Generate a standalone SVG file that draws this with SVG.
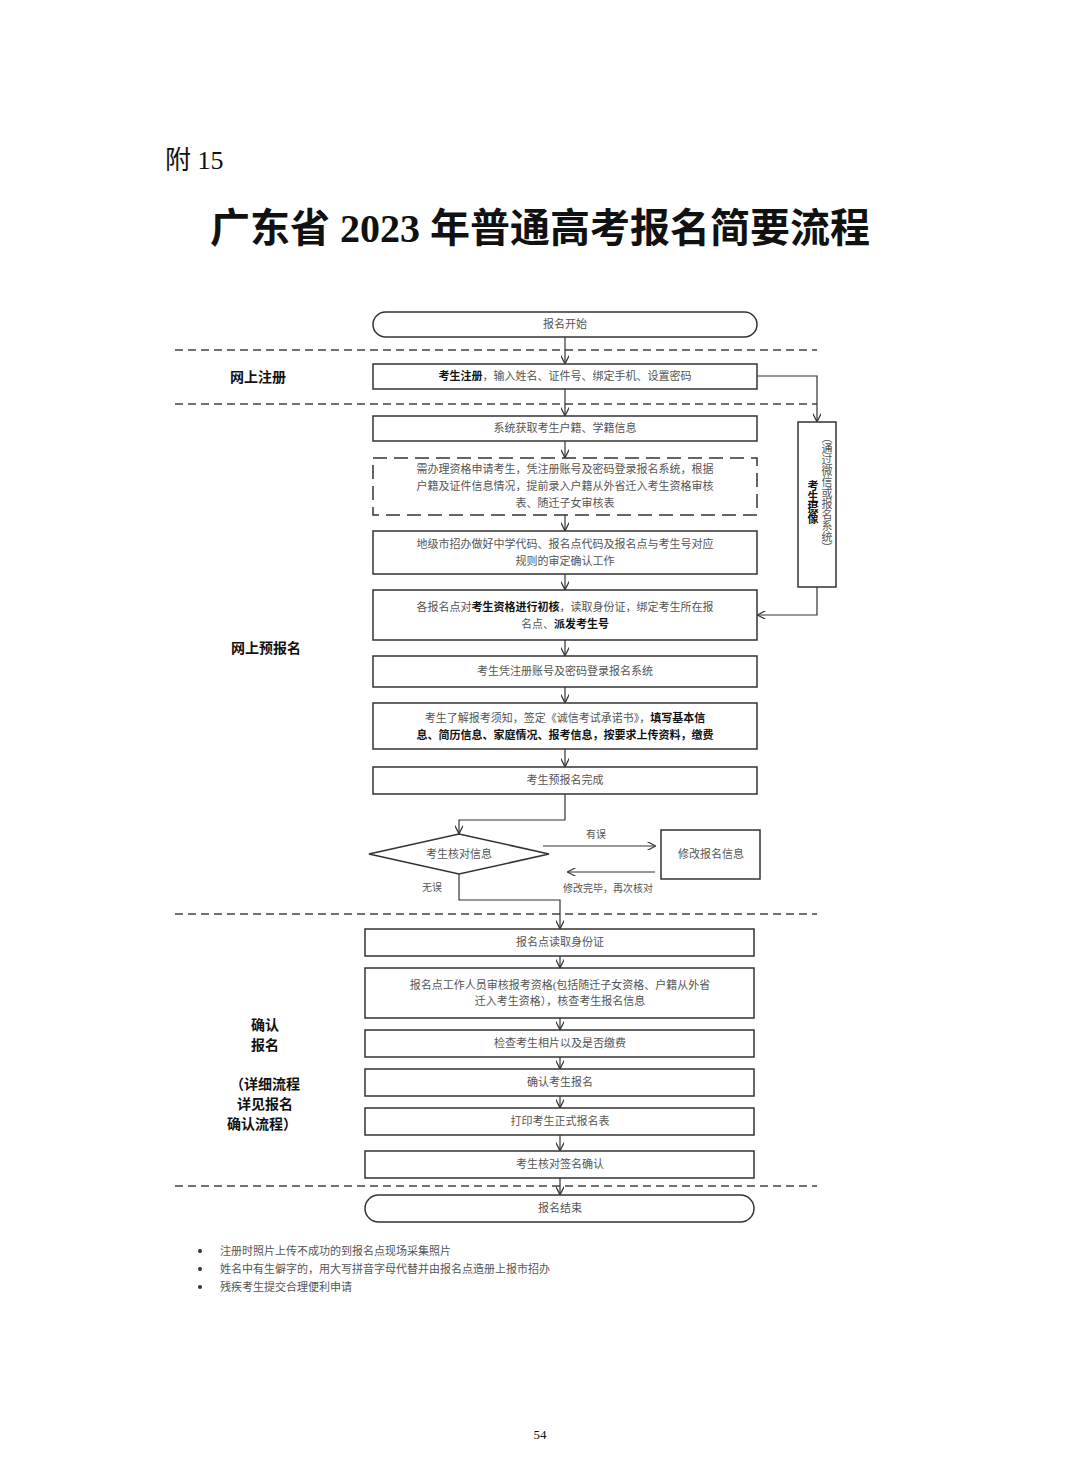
<svg xmlns="http://www.w3.org/2000/svg" width="1080" height="1461" viewBox="0 0 1080 1461">
<style>
text{font-family:"Liberation Serif","Noto Sans CJK SC",serif;fill:#555}
.b{fill:none;stroke:#333;stroke-width:1.5}
.t{font-size:11px;text-anchor:middle}
.k{font-weight:bold;fill:#111}
.lbl{font-size:14px;font-weight:bold;fill:#111;text-anchor:middle}
.sep{stroke:#444;stroke-width:1.3;stroke-dasharray:8,5}
.c{fill:none;stroke:#333;stroke-width:1.2;marker-end:url(#a)}
</style>
<defs><marker id="a" viewBox="0 0 10 10" refX="9" refY="5" markerWidth="7" markerHeight="7" orient="auto"><path d="M0,0 L10,5 L0,10" fill="none" stroke="#333" stroke-width="1.5"/></marker></defs>
<rect width="1080" height="1461" fill="#fff"/>
<text x="165" y="169" style="font-size:26px;fill:#111">附 15</text>
<text x="540" y="242" style="font-size:40px;font-weight:bold;fill:#111;text-anchor:middle">广东省 2023 年普通高考报名简要流程</text>
<g id="seps">
<line class="sep" x1="175" y1="350" x2="817" y2="350"/>
<line class="sep" x1="175" y1="404" x2="817" y2="404"/>
<line class="sep" x1="175" y1="914" x2="817" y2="914"/>
<line class="sep" x1="175" y1="1186" x2="817" y2="1186"/>
</g>
<g id="labels">
<text class="lbl" x="258" y="382">网上注册</text>
<text class="lbl" x="266" y="653">网上预报名</text>
<text class="lbl" x="265" y="1030">确认</text>
<text class="lbl" x="265" y="1050">报名</text>
<text class="lbl" x="265" y="1089">（详细流程</text>
<text class="lbl" x="265" y="1109">详见报名</text>
<text class="lbl" x="262" y="1129">确认流程）</text>
</g>
<g id="connectors">
<path class="c" d="M565,337 V363"/>
<path class="c" d="M565,389 V415"/>
<path class="c" d="M565,441 V457"/>
<path class="c" d="M565,515 V530"/>
<path class="c" d="M565,574 V589"/>
<path class="c" d="M565,640 V655"/>
<path class="c" d="M565,687 V702"/>
<path class="c" d="M565,749 V766"/>
<path class="c" d="M757,376 H817 V421"/>
<path class="c" d="M817,587 V615 H758"/>
<path class="c" d="M565,794 V820 H459 V833"/>
<path class="c" d="M543,846 H655"/>
<path class="c" d="M655,872 H568"/>
<path class="c" d="M459,874 V900 H560 V928"/>
<path class="c" d="M560,956 V967"/>
<path class="c" d="M560,1018 V1029"/>
<path class="c" d="M560,1057 V1068"/>
<path class="c" d="M560,1096 V1107"/>
<path class="c" d="M560,1135 V1150"/>
<path class="c" d="M560,1178 V1194"/>
<text class="t" x="596" y="838" style="font-size:10px">有误</text>
<text class="t" x="608" y="892" style="font-size:10px">修改完毕，再次核对</text>
<text class="t" x="432" y="891" style="font-size:10px">无误</text>
</g>
<g id="n_start"><rect class="b" x="373" y="312" width="384" height="25" rx="12.5"/><text class="t" x="565" y="328">报名开始</text></g>
<g id="n_reg"><rect class="b" x="373" y="364" width="384" height="25"/><text class="t" x="565" y="380"><tspan class="k">考生注册</tspan>，输入姓名、证件号、绑定手机、设置密码</text></g>
<g id="n_sys"><rect class="b" x="373" y="416" width="384" height="25"/><text class="t" x="565" y="432">系统获取考生户籍、学籍信息</text></g>
<g id="n_apply"><rect class="b" x="373" y="458" width="384" height="57" stroke-dasharray="14,7"/>
<text class="t" x="565" y="473">需办理资格申请考生，凭注册账号及密码登录报名系统，根据</text>
<text class="t" x="565" y="490">户籍及证件信息情况，提前录入户籍从外省迁入考生资格审核</text>
<text class="t" x="565" y="507">表、随迁子女审核表</text></g>
<g id="n_city"><rect class="b" x="373" y="531" width="384" height="43"/>
<text class="t" x="565" y="548">地级市招办做好中学代码、报名点代码及报名点与考生号对应</text>
<text class="t" x="565" y="565">规则的审定确认工作</text></g>
<g id="n_point"><rect class="b" x="373" y="590" width="384" height="50"/>
<text class="t" x="565" y="611">各报名点对<tspan class="k">考生资格进行初核</tspan>，读取身份证，绑定考生所在报</text>
<text class="t" x="565" y="628">名点、<tspan class="k">派发考生号</tspan></text></g>
<g id="n_photo"><rect class="b" x="798" y="422" width="38" height="165"/>
<text x="812" y="480" style="font-size:11px;font-weight:bold;fill:#111;writing-mode:tb">考生摄像</text>
<text x="826" y="432" style="font-size:11px;writing-mode:tb">（通过微信或报名系统）</text></g>
<g id="n_login"><rect class="b" x="373" y="656" width="384" height="31"/><text class="t" x="565" y="675">考生凭注册账号及密码登录报名系统</text></g>
<g id="n_fill"><rect class="b" x="373" y="703" width="384" height="46"/>
<text class="t" x="565" y="722">考生了解报考须知，签定《诚信考试承诺书》，<tspan class="k">填写基本信</tspan></text>
<text class="t" x="565" y="739" style="font-weight:bold;fill:#111">息、简历信息、家庭情况、报考信息，按要求上传资料，缴费</text></g>
<g id="n_pre"><rect class="b" x="373" y="767" width="384" height="27"/><text class="t" x="565" y="784">考生预报名完成</text></g>
<g id="n_check"><polygon class="b" points="369,854 459,834 549,854 459,874"/><text class="t" x="459" y="858">考生核对信息</text></g>
<g id="n_modify"><rect class="b" x="661" y="830" width="99" height="49"/><text class="t" x="711" y="858">修改报名信息</text></g>
<g id="n_id"><rect class="b" x="365" y="929" width="389" height="27"/><text class="t" x="560" y="946">报名点读取身份证</text></g>
<g id="n_staff"><rect class="b" x="365" y="968" width="389" height="50"/>
<text class="t" x="560" y="989">报名点工作人员审核报考资格(包括随迁子女资格、户籍从外省</text>
<text class="t" x="560" y="1005">迁入考生资格），核查考生报名信息</text></g>
<g id="n_pic"><rect class="b" x="365" y="1030" width="389" height="27"/><text class="t" x="560" y="1047">检查考生相片以及是否缴费</text></g>
<g id="n_conf"><rect class="b" x="365" y="1069" width="389" height="27"/><text class="t" x="560" y="1086">确认考生报名</text></g>
<g id="n_print"><rect class="b" x="365" y="1108" width="389" height="27"/><text class="t" x="560" y="1125">打印考生正式报名表</text></g>
<g id="n_sign"><rect class="b" x="365" y="1151" width="389" height="27"/><text class="t" x="560" y="1168">考生核对签名确认</text></g>
<g id="n_end"><rect class="b" x="365" y="1195" width="389" height="27" rx="13.5"/><text class="t" x="560" y="1212">报名结束</text></g>
<g id="notes" style="font-size:11px">
<circle cx="200" cy="1251" r="2" fill="#333"/><circle cx="200" cy="1269" r="2" fill="#333"/><circle cx="200" cy="1287" r="2" fill="#333"/>
<text x="220" y="1255" style="font-size:11px">注册时照片上传不成功的到报名点现场采集照片</text>
<text x="220" y="1273" style="font-size:11px">姓名中有生僻字的，用大写拼音字母代替并由报名点造册上报市招办</text>
<text x="220" y="1291" style="font-size:11px">残疾考生提交合理便利申请</text>
</g>
<text x="540" y="1439" style="font-size:13px;fill:#111;text-anchor:middle">54</text>
</svg>
